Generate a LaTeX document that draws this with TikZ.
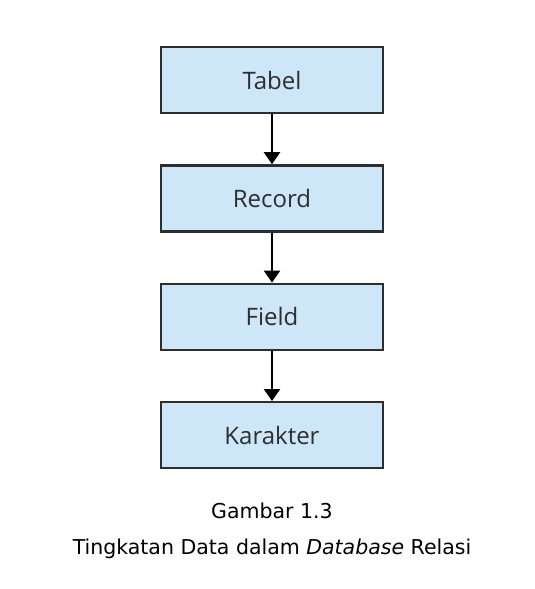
\documentclass[tikz,border=0pt]{standalone}
\usepackage{fontspec}
\setmainfont{DejaVu Sans}
\newfontfamily\boxfont{Open Sans}
\usetikzlibrary{positioning,arrows.meta}
\definecolor{boxblue}{HTML}{CDE6F8}
\definecolor{boxline}{HTML}{2E2E2E}
\begin{document}
\begin{tikzpicture}
        [level/.style={rectangle,draw=boxline,fill=boxblue,line width=2.4pt,
                       minimum width=222pt,minimum height=66pt,
                       font=\boxfont\fontsize{24}{28}\selectfont,text=boxline},
         link/.style={line width=2.4pt,-{Triangle[width=16pt,length=12pt]}},
         node distance=50pt]
        \useasboundingbox (0,0) rectangle (535pt,-589pt);
        \node[level](tabel) at (272pt,-80pt){Tabel};
        \node[level](record)[below =of tabel]{Record};
        \node[level](field)[below =of record]{Field};
        \node[level](karakter)[below =of field]{Karakter};
        \node(gambar) at (272pt,-511pt){\fontsize{20.5}{24}\selectfont Gambar 1.3};
        \node(judul) at (272pt,-549pt){\fontsize{20.5}{24}\selectfont Tingkatan Data dalam \textit{Database} Relasi};
        \path[link](tabel) edge (record)
                  (record) edge (field)
                   (field) edge (karakter);
    \end{tikzpicture}
\end{document}
